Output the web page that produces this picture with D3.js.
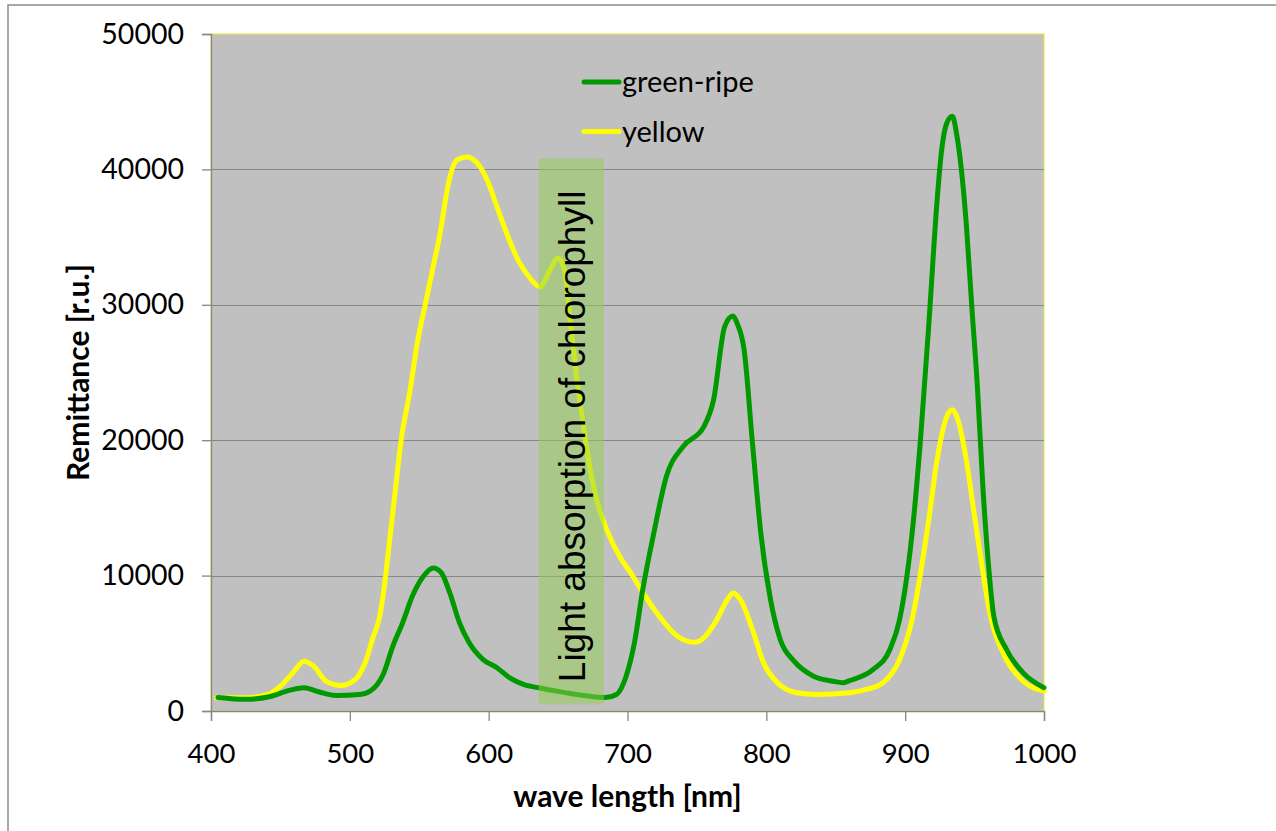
<!DOCTYPE html>
<html>
<head>
<meta charset="utf-8">
<script src="https://cdn.jsdelivr.net/npm/d3@7"></script>
<style>
  html, body { margin: 0; padding: 0; background: #ffffff; }
  svg { display: block; }
  .tick text { font-family: Lato, "Open Sans", sans-serif; fill: #000; }
</style>
</head>
<body>
<svg id="chart" width="1276" height="831"></svg>
<script>
// Reflectance spectra of banana peel at two ripeness stages
const greenNm  = [405, 425, 442, 457, 467, 478, 490, 507, 515, 524, 531, 538, 545, 553, 560, 566, 572, 579, 586, 596, 606, 615, 625, 637, 650, 661, 672, 684, 692, 699, 705, 711, 719, 728, 740, 755, 762, 770, 776, 779, 784, 790, 796, 803, 810, 820, 834, 848, 855, 860, 877, 889, 896, 906, 911, 917, 923, 926, 930, 934, 937, 944, 948, 952, 956, 960, 964, 973, 985, 1000];
const greenVal = [1000, 860, 1050, 1540, 1720, 1400, 1150, 1220, 1500, 2700, 4790, 6510, 8470, 9950, 10570, 10200, 8720, 6510, 5040, 3800, 3190, 2460, 1960, 1700, 1450, 1260, 1100, 990, 1220, 2570, 5040, 8970, 13170, 17320, 19530, 21000, 22980, 28390, 29170, 28630, 26670, 19790, 13150, 8230, 5280, 3680, 2570, 2200, 2090, 2250, 3070, 4540, 6760, 14130, 20000, 28500, 37700, 41170, 43430, 43920, 42650, 36010, 29860, 24000, 16500, 10800, 6900, 4540, 2820, 1720];

const yellowNm  = [404, 426, 441, 450, 459, 467, 474, 483, 494, 504, 511, 517, 521, 525, 528, 533, 537, 543, 549, 555, 559, 565, 571, 577, 584, 591, 599, 606, 613, 620, 629, 637, 643, 650, 654, 659, 663, 668, 672, 678, 685, 695, 703, 709, 721, 736, 748, 755, 763, 772, 776, 782, 790, 798, 808, 822, 836, 860, 872, 884, 896, 905, 917, 923, 930, 934, 938, 944, 950, 962, 973, 985, 1000];
const yellowVal = [980, 980, 1220, 1840, 2820, 3680, 3310, 2200, 1890, 2330, 3560, 5520, 6760, 9300, 12000, 16500, 20030, 23470, 27400, 30350, 32320, 35270, 38960, 40680, 40920, 40550, 39200, 37230, 35270, 33550, 32070, 31330, 32320, 33430, 32810, 28640, 24950, 21260, 18500, 15500, 13400, 11300, 10100, 9100, 7250, 5520, 5080, 5400, 6510, 8230, 8720, 8100, 6020, 3560, 2090, 1350, 1220, 1350, 1590, 2090, 3800, 6760, 14130, 18560, 21750, 22240, 21500, 18560, 14380, 6760, 3800, 2200, 1470];

const xTicks = [400, 500, 600, 700, 800, 900, 1000];
const yTicks = [0, 10000, 20000, 30000, 40000, 50000];
const seriesNames = ["green-ripe", "yellow"];
const seriesColors = ["#009900", "#ffff00"];
const bandNm = [636, 683];           // chlorophyll absorption band
const bandVal = [500, 40800];
const bandLabel = "Light absorption of chlorophyll";

const svg = d3.select("#chart");

const x = d3.scaleLinear().domain([400, 1000]).range([211, 1044]);
const y = d3.scaleLinear().domain([0, 50000]).range([711, 34]);

// outer frame
svg.append("path")
  .attr("d", "M8,831 L8,5 L1276,5")
  .attr("fill", "none").attr("stroke", "#8c8c8c").attr("stroke-width", 1.5);

// plot area
svg.append("rect")
  .attr("x", x(400)).attr("y", y(50000))
  .attr("width", x(1000) - x(400)).attr("height", y(0) - y(50000))
  .attr("fill", "#c0c0c0").attr("stroke", "#e8e830").attr("stroke-width", 1);

// gridlines
svg.append("g").selectAll("line")
  .data(yTicks.filter(d => d > 0 && d < 50000))
  .join("line")
  .attr("x1", x(400)).attr("x2", x(1000))
  .attr("y1", d => Math.round(y(d)) + 0.5).attr("y2", d => Math.round(y(d)) + 0.5)
  .attr("stroke", "#868686").attr("stroke-width", 1);

// axes
const yAxis = svg.append("g")
  .attr("transform", `translate(${x(400)},0)`)
  .call(d3.axisLeft(y).tickValues(yTicks).tickFormat(d3.format("d")).tickSize(9).tickPadding(18));
const xAxis = svg.append("g")
  .attr("transform", `translate(0,${y(0)})`)
  .call(d3.axisBottom(x).tickValues(xTicks).tickFormat(d3.format("d")).tickSize(10).tickPadding(22));
[yAxis, xAxis].forEach(g => {
  g.select(".domain").attr("stroke", "#868686").attr("stroke-width", 1.3);
  g.selectAll(".tick line").attr("stroke", "#868686").attr("stroke-width", 1.3);
});
yAxis.selectAll(".tick text").attr("font-size", 28.5);
xAxis.selectAll(".tick text").attr("font-size", 27.5).attr("dy", "0.71em");

// spectra
const line = d3.line()
  .x(d => x(d[0])).y(d => y(d[1]))
  .curve(d3.curveMonotoneX);

const series = [
  d3.zip(greenNm, greenVal),
  d3.zip(yellowNm, yellowVal)
];

// yellow drawn first, green on top
[1, 0].forEach(i => {
  svg.append("path")
    .datum(series[i])
    .attr("d", line)
    .attr("fill", "none")
    .attr("stroke", seriesColors[i])
    .attr("stroke-width", 5)
    .attr("stroke-linejoin", "round")
    .attr("stroke-linecap", "round");
});

// chlorophyll absorption band
svg.append("rect")
  .attr("x", x(bandNm[0])).attr("y", y(bandVal[1]))
  .attr("width", x(bandNm[1]) - x(bandNm[0]))
  .attr("height", y(bandVal[0]) - y(bandVal[1]))
  .attr("fill", "rgb(146,208,80)").attr("fill-opacity", 0.5);

svg.append("text")
  .attr("transform", `translate(${x((bandNm[0] + bandNm[1]) / 2) + 14},${(y(bandVal[0]) + y(bandVal[1])) / 2 + 5}) rotate(-90)`)
  .attr("text-anchor", "middle")
  .attr("font-family", "'Liberation Sans', Arial, sans-serif")
  .attr("font-size", 37)
  .attr("fill", "#000")
  .text(bandLabel);

// legend
const legend = svg.append("g");
seriesNames.forEach((name, i) => {
  const ly = 82 + i * 49.5;
  legend.append("line")
    .attr("x1", 584).attr("x2", 619).attr("y1", ly).attr("y2", ly)
    .attr("stroke", seriesColors[i]).attr("stroke-width", 5)
    .attr("stroke-linecap", "round");
  legend.append("text")
    .attr("x", 622).attr("y", ly + 10)
    .attr("font-family", "Lato, 'Open Sans', sans-serif")
    .attr("font-size", 29)
    .attr("fill", "#000")
    .text(name);
});

// axis titles
svg.append("text")
  .attr("x", (x(400) + x(1000)) / 2).attr("y", 807)
  .attr("text-anchor", "middle")
  .attr("font-family", "Lato, 'Open Sans', sans-serif")
  .attr("font-weight", "bold").attr("font-size", 30)
  .text("wave length [nm]");

svg.append("text")
  .attr("transform", `translate(89,${(y(0) + y(50000)) / 2}) rotate(-90)`)
  .attr("text-anchor", "middle")
  .attr("font-family", "Lato, 'Open Sans', sans-serif")
  .attr("font-weight", "bold").attr("font-size", 30)
  .text("Remittance [r.u.]");
</script>
</body>
</html>
